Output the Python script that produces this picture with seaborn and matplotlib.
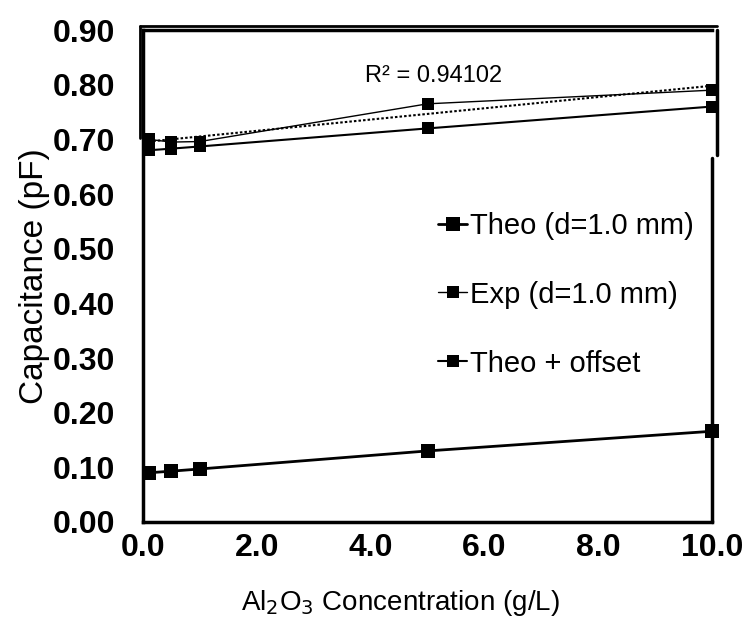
import numpy as np
import pandas as pd
import matplotlib
matplotlib.use("Agg")
import matplotlib.pyplot as plt
import seaborn as sns

# Al2O3 concentration (g/L)
conc = [0.1, 0.5, 1.0, 5.0, 10.0]
# Capacitance (pF)
theo = [0.090, 0.093, 0.097, 0.130, 0.166]
exp_vals = [0.700, 0.695, 0.696, 0.765, 0.790]
theo_offset = [0.680, 0.683, 0.687, 0.720, 0.760]
series_names = ["Theo (d=1.0 mm)", "Exp (d=1.0 mm)", "Theo + offset"]
r2_label = "R\u00b2 = 0.94102"
x_ticks = [0.0, 2.0, 4.0, 6.0, 8.0, 10.0]
y_ticks = [0.0, 0.1, 0.2, 0.3, 0.4, 0.5, 0.6, 0.7, 0.8, 0.9]

sns.set_theme(style="white")
plt.rcParams["font.family"] = ["Liberation Sans", "DejaVu Sans"]
plt.rcParams["text.color"] = "black"
plt.rcParams["axes.labelcolor"] = "black"
plt.rcParams["xtick.color"] = "black"
plt.rcParams["ytick.color"] = "black"

fig = plt.figure(figsize=(7.47, 6.28), dpi=100)
ax = fig.add_axes([0.1914, 0.1688, 0.762, 0.7834])

df_theo = pd.DataFrame({"x": conc, "y": theo})
df_exp = pd.DataFrame({"x": conc, "y": exp_vals})
df_off = pd.DataFrame({"x": conc, "y": theo_offset})

sns.lineplot(data=df_theo, x="x", y="y", ax=ax, color="black", lw=2.0,
             marker="s", markersize=10, markeredgewidth=0, label=series_names[0],
             clip_on=False, zorder=4)
sns.lineplot(data=df_exp, x="x", y="y", ax=ax, color="black", lw=1.0,
             marker="s", markersize=8, markeredgewidth=0, label=series_names[1],
             clip_on=False, zorder=4)
sns.lineplot(data=df_off, x="x", y="y", ax=ax, color="black", lw=1.5,
             marker="s", markersize=9, markeredgewidth=0, label=series_names[2],
             clip_on=False, zorder=4)

# linear trend through the experimental points
sns.regplot(data=df_exp, x="x", y="y", ax=ax, scatter=False, ci=None,
            line_kws=dict(color="black", lw=1.5, ls=(0, (1.2, 1.0))))

ax.text(5.1, 0.816, r2_label, fontsize=17, ha="center", va="center",
        color="black")

ax.set_xlim(0, 10)
ax.set_ylim(0, 0.9)
ax.set_xticks(x_ticks)
ax.set_yticks(y_ticks)
ax.set_xticklabels([f"{v:.1f}" for v in x_ticks], fontsize=23, fontweight="bold")
ax.set_yticklabels([f"{v:.2f}" for v in y_ticks], fontsize=23, fontweight="bold")
ax.tick_params(axis="both", direction="in", length=6, width=1.5, color="black",
               labelcolor="black")
ax.tick_params(axis="x", pad=8)
ax.tick_params(axis="y", pad=20)

ax.set_xlabel("Al$_2$O$_3$ Concentration (g/L)", fontsize=20)
ax.xaxis.set_label_coords(0.452, -0.134)
ax.set_ylabel("Capacitance (pF)", fontsize=24, labelpad=2)

for side in ["left", "bottom", "top"]:
    ax.spines[side].set_color("black")
    ax.spines[side].set_linewidth(2.5)
ax.spines["right"].set_visible(False)

# right border drawn in two offset pieces, plus the outer frame line
tr = ax.transAxes
ax.plot([1.0, 1.0], [0.0, 0.74], transform=tr, color="black", lw=2.5, clip_on=False)
ax.plot([1.008, 1.008], [0.745, 1.0], transform=tr, color="black", lw=2.5, clip_on=False)
ax.plot([-0.005, 1.008], [1.008, 1.008], transform=tr, color="black", lw=2.0, clip_on=False)
ax.plot([-0.005, -0.005], [0.78, 1.008], transform=tr, color="black", lw=2.0, clip_on=False)

leg = ax.legend(loc="center left", bbox_to_anchor=(0.498, 0.462), frameon=False,
                fontsize=21, handlelength=1.0, handletextpad=0.1,
                labelspacing=1.4, borderaxespad=0)
for t in leg.get_texts():
    t.set_color("black")

fig.savefig("out.png", dpi=100)
